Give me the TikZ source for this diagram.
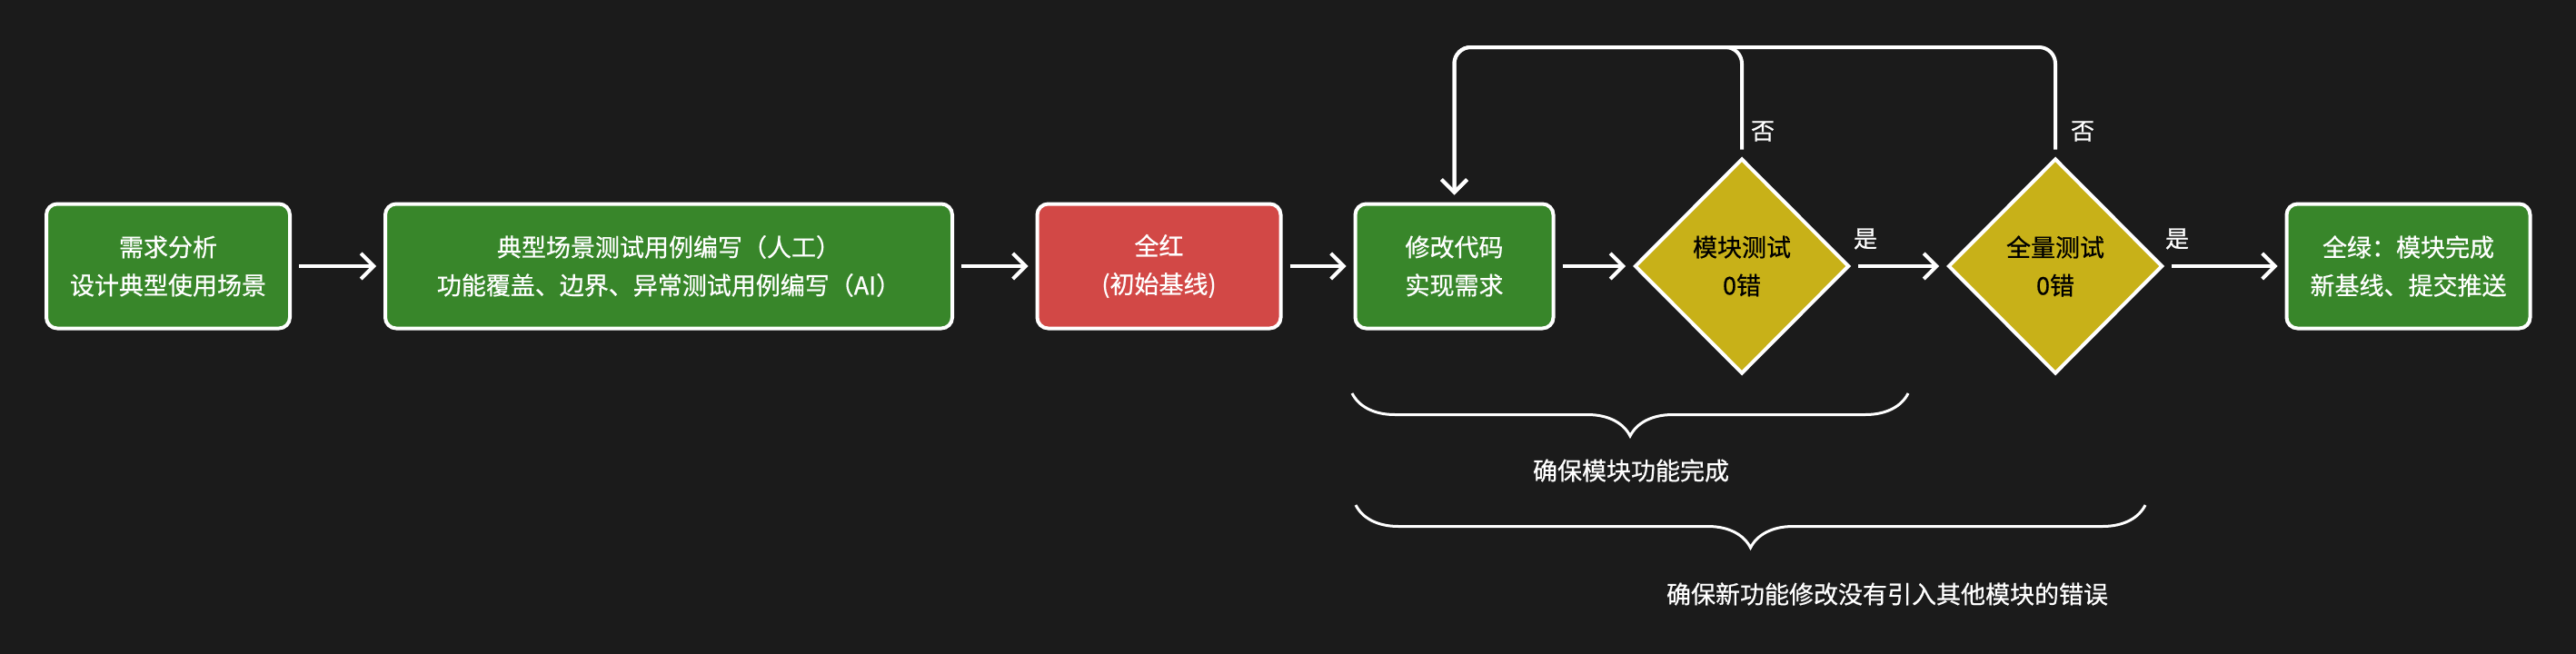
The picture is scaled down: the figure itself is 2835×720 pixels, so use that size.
\documentclass[tikz,border=0pt]{standalone}
\usepackage{fontspec}
\setmainfont{Noto Sans CJK SC}[FakeBold=0.6]
\usetikzlibrary{shapes.geometric,arrows.meta,decorations.pathreplacing}
\definecolor{bgc}{HTML}{1B1B1B}
\definecolor{gr}{HTML}{38862A}
\definecolor{rd}{HTML}{D24846}
\definecolor{yl}{HTML}{C8B118}
\begin{document}
\begin{tikzpicture}[x=1pt,y=-1pt,
 box/.style={draw=white, line width=4pt, rounded corners=12pt, minimum height=137pt, inner sep=0pt, align=center, text=white, font=\fontsize{27}{42}\selectfont},
 dia/.style={diamond, draw=white, line width=4pt, fill=yl, minimum width=236pt, minimum height=237pt, inner sep=0pt, align=center, text=black, font=\fontsize{27}{42}\selectfont},
 arr/.style={draw=white, line width=4pt, -{Straight Barb[length=14pt,width=28pt]}, shorten <=8pt, shorten >=8pt},
 loopline/.style={arr, rounded corners=18pt},
 lab/.style={text=white, inner sep=0pt, font=\fontsize{26}{26}\selectfont},
 brc/.style={draw=white, line width=3pt, decorate, decoration={brace, amplitude=47pt}},
 note/.style={text=white, inner sep=0pt, font=\fontsize{27}{27}\selectfont}]
\fill[bgc] (0,0) rectangle (2835,720);
\useasboundingbox (0,0) rectangle (2835,720);

\node[box, fill=gr, minimum width=268pt] (b1) at (185,293) {需求分析\\设计典型使用场景};
\node[box, fill=gr, minimum width=624pt] (b2) at (736,293) {典型场景测试用例编写（人工）\\功能覆盖、边界、异常测试用例编写（AI）};
\node[box, fill=rd, minimum width=268pt] (b3) at (1275.5,293) {全红\\(初始基线)};
\node[box, fill=gr, minimum width=218pt] (b4) at (1600.5,293) {修改代码\\实现需求};
\node[dia] (d1) at (1917,293) {模块测试\\0错};
\node[dia] (d2) at (2262,293) {全量测试\\0错};
\node[box, fill=gr, minimum width=268pt] (b5) at (2650.5,293) {全绿：模块完成\\新基线、提交推送};

\draw[arr] (b1) -- (b2);
\draw[arr] (b2) -- (b3);
\draw[arr] (b3) -- (b4);
\draw[arr] (b4) -- (d1);
\draw[arr] (d1) -- (d2);
\draw[arr] (d2) -- (b5);

\coordinate (ly) at (0,52);
\draw[loopline] (d1.north) -- (d1.north |- ly) -| (b4.north);
\draw[loopline] (d2.north) -- (d2.north |- ly) -| (b4.north);

\node[lab] (no1) at ([xshift=23pt,yshift=28pt]d1.north) {否};
\node[lab] (no2) at ([xshift=30pt,yshift=28pt]d2.north) {否};
\node[lab] (yes1) at ([xshift=16pt,yshift=30pt]d1.east) {是};
\node[lab] (yes2) at ([xshift=14pt,yshift=30pt]d2.east) {是};

\draw[brc] (2100,433) -- (1488,433);
\draw[brc] (2361,556) -- (1492,556);
\node[note] (t1) at (1795,518) {确保模块功能完成};
\node[note] (t2) at (2077,654) {确保新功能修改没有引入其他模块的错误};
\end{tikzpicture}
\end{document}
